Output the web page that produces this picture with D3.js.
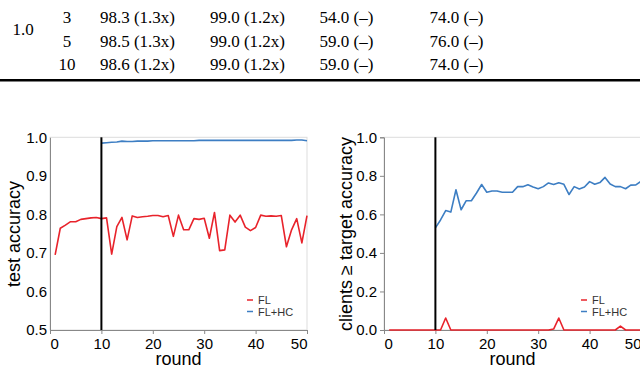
<!DOCTYPE html>
<html>
<head>
<meta charset="utf-8">
<script src="https://cdn.jsdelivr.net/npm/d3@7"></script>
<style>
  body { margin: 0; background: #fff; }
  svg { display: block; }
</style>
</head>
<body>
<script>
// table rows above the charts
const tableRows = [
  ["3", "98.3 (1.3x)", "99.0 (1.2x)", "54.0 (–)", "74.0 (–)"],
  ["5", "98.5 (1.3x)", "99.0 (1.2x)", "59.0 (–)", "76.0 (–)"],
  ["10", "98.6 (1.2x)", "99.0 (1.2x)", "59.0 (–)", "74.0 (–)"]
];
const groupLabel = "1.0";

// chart data: FL series starts at round 1, FL+HC starts at round 10
const flStart = 1;
const hcStart = 10;
const hcRound = 10;

const accFL = [0.695, 0.764, 0.772, 0.781, 0.781, 0.787, 0.789, 0.791, 0.792, 0.789,
  0.791, 0.697, 0.768, 0.792, 0.734, 0.796, 0.792, 0.794, 0.795, 0.797,
  0.797, 0.794, 0.797, 0.743, 0.798, 0.760, 0.760, 0.789, 0.787, 0.790,
  0.738, 0.805, 0.706, 0.708, 0.798, 0.780, 0.798, 0.767, 0.758, 0.766,
  0.798, 0.795, 0.796, 0.795, 0.797, 0.716, 0.760, 0.789, 0.726, 0.797];
const accHC = [0.985, 0.986, 0.987, 0.988, 0.990, 0.989, 0.989, 0.990, 0.990, 0.990,
  0.991, 0.991, 0.991, 0.991, 0.991, 0.991, 0.991, 0.991, 0.991, 0.992,
  0.992, 0.992, 0.992, 0.992, 0.992, 0.992, 0.992, 0.992, 0.992, 0.992,
  0.992, 0.992, 0.992, 0.992, 0.992, 0.992, 0.992, 0.992, 0.993, 0.993, 0.991];

const cliFL = [0, 0, 0, 0, 0, 0, 0, 0, 0, 0,
  0, 0.062, 0, 0, 0, 0, 0, 0, 0, 0,
  0, 0, 0, 0, 0, 0, 0, 0, 0, 0,
  0, 0, 0.005, 0.062, 0, 0, 0, 0, 0, 0,
  0, 0, 0, 0, 0, 0.02, 0, 0, 0, 0];
const cliHC = [0.530, 0.571, 0.620, 0.612, 0.728, 0.624, 0.671, 0.671, 0.711, 0.755,
  0.715, 0.721, 0.721, 0.715, 0.715, 0.715, 0.744, 0.744, 0.754, 0.742,
  0.733, 0.744, 0.763, 0.755, 0.764, 0.756, 0.703, 0.744, 0.732, 0.742,
  0.770, 0.756, 0.765, 0.792, 0.758, 0.744, 0.744, 0.733, 0.752, 0.753, 0.772];

const xTicks = [0, 10, 20, 30, 40, 50];
const accTicks = [0.5, 0.6, 0.7, 0.8, 0.9, 1.0];
const cliTicks = [0, 0.2, 0.4, 0.6, 0.8, 1.0];
const legendNames = ["FL", "FL+HC"];
const colors = ["#e8232b", "#3d7ec3"];

const svg = d3.select("body").append("svg")
  .attr("width", 640)
  .attr("height", 368);

// ---- table fragment ----
const serif = "'Liberation Serif', 'Times New Roman', serif";
const colX = [67, 137.5, 247.5, 346.5, 456.5];
const rowY = [23, 46.5, 70];
svg.append("text")
  .attr("x", 23).attr("y", 35)
  .attr("text-anchor", "middle")
  .attr("font-family", serif).attr("font-size", 17)
  .text(groupLabel);
tableRows.forEach((row, i) => {
  row.forEach((cell, j) => {
    svg.append("text")
      .attr("x", colX[j]).attr("y", rowY[i])
      .attr("text-anchor", "middle")
      .attr("font-family", serif).attr("font-size", 17)
      .text(cell);
  });
});
svg.append("line")
  .attr("x1", 0).attr("x2", 640)
  .attr("y1", 80.3).attr("y2", 80.3)
  .attr("stroke", "#000").attr("stroke-width", 2.4);

// ---- charts ----
const sans = "'Liberation Sans', Arial, sans-serif";

function drawChart(o) {
  const x = d3.scaleLinear().domain([0, 50]).range([o.left, o.right]);
  const y = d3.scaleLinear().domain(o.yDomain).range([330, 137.3]);
  const g = svg.append("g");

  g.append("rect")
    .attr("x", o.left).attr("y", 137.3)
    .attr("width", o.right - o.left).attr("height", 330 - 137.3)
    .attr("fill", "none").attr("stroke", "#ddd");

  const yAxis = g.append("g")
    .attr("transform", `translate(${o.left},0)`)
    .call(d3.axisLeft(y).tickValues(o.yTicks).tickFormat(d3.format(".1f"))
      .tickSize(o.yTickSize).tickPadding(o.yPad));
  yAxis.selectAll("text").attr("font-size", 15).attr("font-family", sans).attr("fill", "#000");
  yAxis.selectAll("line, path").attr("stroke", "#888");

  const xAxis = g.append("g")
    .attr("transform", "translate(0,330)")
    .call(d3.axisBottom(x).tickValues(xTicks).tickSize(4).tickPadding(4));
  xAxis.selectAll("text").attr("font-size", 15).attr("font-family", sans).attr("fill", "#000")
    .attr("text-anchor", (d, i) => i === 0 ? "start" : (i === xTicks.length - 1 ? "end" : "middle"));
  xAxis.selectAll("line, path").attr("stroke", "#888");

  g.append("text")
    .attr("x", (o.left + o.right) / 2).attr("y", 365)
    .attr("text-anchor", "middle")
    .attr("font-family", sans).attr("font-size", 18)
    .text("round");

  g.append("text")
    .attr("transform", `translate(${o.titleX},234) rotate(-90)`)
    .attr("text-anchor", "middle")
    .attr("font-family", sans).attr("font-size", 18)
    .text(o.title);

  const line = d3.line()
    .x(d => x(d.r))
    .y(d => y(d.v));

  o.series.forEach((s, k) => {
    const pts = s.values.map((v, i) => ({ r: s.start + i, v: v }));
    g.append("path")
      .datum(pts)
      .attr("fill", "none")
      .attr("stroke", colors[k])
      .attr("stroke-width", 1.6)
      .attr("stroke-linejoin", "round")
      .attr("d", line);
  });

  g.append("line")
    .attr("x1", x(hcRound)).attr("x2", x(hcRound))
    .attr("y1", 137.3).attr("y2", 330)
    .attr("stroke", "#000").attr("stroke-width", 2);

  legendNames.forEach((name, k) => {
    const ly = 300 + k * 11.5;
    g.append("line")
      .attr("x1", o.right - 60).attr("x2", o.right - 54)
      .attr("y1", ly).attr("y2", ly)
      .attr("stroke", colors[k]).attr("stroke-width", 1.5);
    g.append("text")
      .attr("x", o.right - 49).attr("y", ly + 4)
      .attr("font-family", sans).attr("font-size", 11)
      .attr("fill", "#333")
      .text(name);
  });
}

drawChart({
  left: 50, right: 307,
  yDomain: [0.5, 1.0], yTicks: accTicks, yTickSize: 0, yPad: 3,
  title: "test accuracy", titleX: 19.5,
  series: [{ start: flStart, values: accFL }, { start: hcStart, values: accHC }]
});

drawChart({
  left: 384, right: 641,
  yDomain: [0, 1.0], yTicks: cliTicks, yTickSize: 4, yPad: 3,
  title: "clients ≥ target accuracy", titleX: 352,
  series: [{ start: flStart, values: cliFL }, { start: hcStart, values: cliHC }]
});
</script>
</body>
</html>
